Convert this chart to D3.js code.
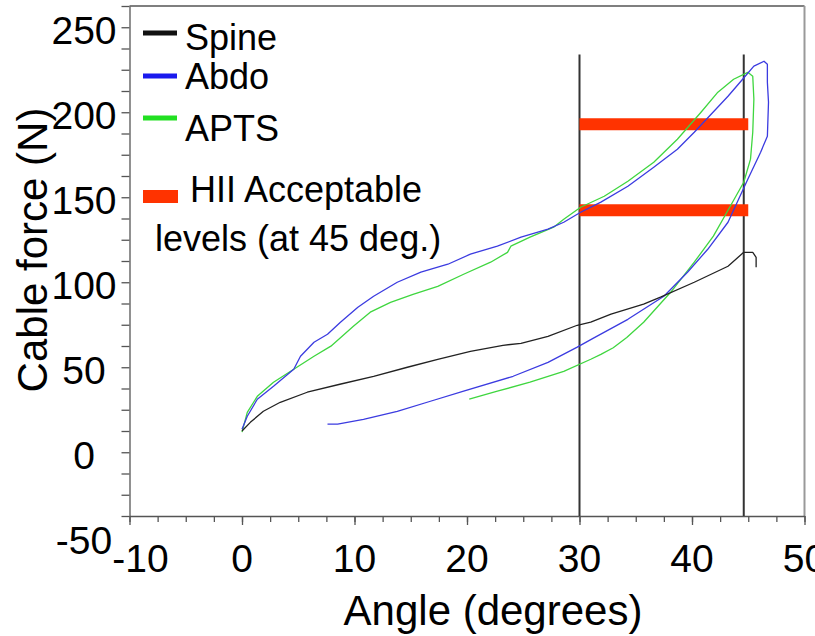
<!DOCTYPE html>
<html>
<head>
<meta charset="utf-8">
<script src="https://cdn.jsdelivr.net/npm/d3@7"></script>
<style>
  body { margin: 0; background: #fff; }
  text { font-family: Arial, "Liberation Sans", sans-serif; fill: #000; }
</style>
</head>
<body>
<div id="plot"></div>
<script>
// curves: [angle (deg), cable force (N)]
var spine = [[0, 12.5], [0.74, 17.6], [1.9, 24.1], [3.4, 29.4], [5.8, 35.3], [8.7, 40],
  [11.7, 44.7], [14.7, 50], [17.4, 54.7], [20.3, 59.4], [23.2, 62.9], [24.8, 64.1],
  [27.2, 68.2], [29.8, 74.7], [31.0, 76.5], [32.8, 81.2], [35.7, 87.1], [37.2, 91.2],
  [40.2, 100], [43.2, 109.4], [44.1, 114.7], [44.6, 117.6], [45.4, 117.6], [45.7, 114.7],
  [45.7, 108.8]];

var abdo = [[0, 13.5], [0.47, 21.2], [1.36, 31.2], [2.8, 38.8], [4.6, 48.8], [5.2, 56.5],
  [6.4, 64.7], [7.6, 69.4], [8.75, 76.5], [10.3, 85.3], [11.7, 91.8], [13.8, 100],
  [15.9, 105.9], [18.3, 110.6], [20.3, 116.5], [22.7, 121.2], [24.8, 126.5], [27.2, 131.2],
  [28.6, 135.3], [30.1, 141.2], [31.9, 147.1], [34.3, 156.5], [36.6, 167.6], [38.7, 178.2],
  [40.2, 188.2], [41.7, 198.8], [43.2, 209.4], [44.5, 219.4], [45.5, 227.1], [46.4, 230],
  [46.7, 228.2], [46.7, 217.6], [46.8, 205.9], [46.7, 185.9], [46.1, 176.5], [44.96, 160.6],
  [43.2, 135.3], [41.4, 119.4], [39.6, 105.9], [37.5, 91.8], [34.3, 78.2], [31.2, 67],
  [29.8, 61.8], [27.2, 52.9], [24.1, 44.7], [19.7, 35.9], [16.75, 30], [13.8, 24.1],
  [10.8, 19.4], [8.5, 16.5], [7.6, 16.5]];

var apts = [[0, 11.8], [0.47, 23.5], [1.36, 32.9], [2.8, 41.2], [4.6, 48.8], [6.4, 56.5],
  [7.9, 62.4], [9.9, 74.1], [11.4, 82.4], [13.2, 88.2], [15.2, 92.9], [17.4, 97.6],
  [19.7, 104.7], [22.1, 111.8], [23.6, 117.6], [23.9, 121.2], [25.6, 126.5], [27.7, 132.4],
  [28.6, 137.1], [30.1, 144.1], [32.2, 150.6], [34.3, 159.4], [36.6, 170.6], [38.7, 184.1],
  [40.8, 200], [42.3, 211.8], [43.7, 219.4], [44.96, 223.5], [45.4, 221.2], [45.5, 207.6],
  [45.4, 188.2], [45.2, 172.4], [44.6, 158.8], [43.4, 144.7], [41.9, 127.1], [40.2, 111.8],
  [38.1, 94.1], [35.7, 76.5], [34.2, 67.5], [33.0, 61.5], [31.9, 57.6], [31.0, 54.7],
  [28.6, 47.6], [25.6, 41.2], [22.7, 35.9], [20.2, 31.2]];

// reference lines and HII acceptable levels
var markerAngles = [30, 44.6];
var markerTop = 234;
var hiiLevels = [193, 142.4];
var hiiRange = [30, 45];

var xTickLabels = [-10, 0, 10, 20, 30, 40, 50];
var yTickLabels = [-50, 0, 50, 100, 150, 200, 250];

var legendNames = ["Spine", "Abdo", "APTS"];
var legendColors = ["#111111", "#1a1aee", "#22e022"];
var lineColors = ["#222222", "#3b3be0", "#3fd63f"];

var W = 815, H = 636;

var svg = d3.select("div#plot")
  .append("svg")
    .attr("width", W)
    .attr("height", H);

svg.append("rect").attr("width", W).attr("height", H).attr("fill", "#fff");

var x = d3.scaleLinear().domain([-10, 50]).range([129.5, 804.5]);
var y = d3.scaleLinear().domain([-37.5, 262.5]).range([516, 6]);

// frame (top and right)
svg.append("line")
  .attr("x1", x(-10)).attr("x2", x(50))
  .attr("y1", y(262.5)).attr("y2", y(262.5))
  .attr("stroke", "#555").attr("stroke-width", 1.3);
svg.append("line")
  .attr("x1", x(50)).attr("x2", x(50))
  .attr("y1", y(262.5)).attr("y2", y(-37.5))
  .attr("stroke", "#999").attr("stroke-width", 2);

// Y axis: ticks every 12.5 N
svg.append("g")
  .attr("transform", "translate(" + x(-10) + ",0)")
  .call(d3.axisLeft(y).tickValues(d3.range(-37.5, 262.6, 12.5)).tickFormat("").tickSize(8).tickSizeOuter(0))
  .call(function(g) {
    g.selectAll("path, line").attr("stroke", "#555").attr("stroke-width", 1.3);
  });

// X axis: minor and major ticks
svg.append("g")
  .attr("transform", "translate(0," + y(-37.5) + ")")
  .call(d3.axisBottom(x).tickValues(d3.range(-10, 50.1, 2.5)).tickFormat("").tickSize(6).tickSizeOuter(0))
  .call(function(g) {
    g.selectAll("path, line").attr("stroke", "#555").attr("stroke-width", 1.3);
  });
svg.append("g")
  .attr("transform", "translate(0," + y(-37.5) + ")")
  .call(d3.axisBottom(x).tickValues(xTickLabels).tickFormat("").tickSize(9).tickSizeOuter(0))
  .call(function(g) {
    g.select("path").remove();
    g.selectAll("line").attr("stroke", "#555").attr("stroke-width", 1.3);
  });

// tick labels
svg.selectAll(".ylab")
  .data(yTickLabels)
  .enter().append("text")
  .attr("class", "ylab")
  .attr("x", 84)
  .attr("y", function(d) { return y(d) + 17; })
  .attr("text-anchor", "middle")
  .style("font-size", "39px")
  .text(function(d) { return d; });

svg.selectAll(".xlab")
  .data(xTickLabels)
  .enter().append("text")
  .attr("class", "xlab")
  .attr("x", function(d) { return x(d); })
  .attr("dx", function(d) { return d < 0 ? 11 : 0; })
  .attr("y", 572)
  .attr("text-anchor", "middle")
  .style("font-size", "39px")
  .text(function(d) { return d; });

// axis titles
svg.append("text")
  .attr("x", 493).attr("y", 625)
  .attr("text-anchor", "middle")
  .style("font-size", "42px")
  .text("Angle (degrees)");

svg.append("text")
  .attr("transform", "translate(47,250) rotate(-90)")
  .attr("text-anchor", "middle")
  .style("font-size", "42px")
  .text("Cable force (N)");

// vertical reference lines
svg.selectAll(".marker")
  .data(markerAngles)
  .enter().append("line")
  .attr("class", "marker")
  .attr("x1", function(d) { return x(d); })
  .attr("x2", function(d) { return x(d); })
  .attr("y1", y(markerTop))
  .attr("y2", y(-37.5))
  .attr("stroke", "#333")
  .attr("stroke-width", 2);

// HII acceptable levels
svg.selectAll(".hii")
  .data(hiiLevels)
  .enter().append("line")
  .attr("class", "hii")
  .attr("x1", x(hiiRange[0]))
  .attr("x2", x(hiiRange[1]))
  .attr("y1", function(d) { return y(d); })
  .attr("y2", function(d) { return y(d); })
  .attr("stroke", "#ff3300")
  .attr("stroke-width", 12);

// curves
var line = d3.line()
  .x(function(d) { return x(d[0]); })
  .y(function(d) { return y(d[1]); });

[apts, abdo, spine].forEach(function(s) {
  var i = [spine, abdo, apts].indexOf(s);
  svg.append("path")
    .datum(s)
    .attr("d", line)
    .attr("fill", "none")
    .attr("stroke", lineColors[i])
    .attr("stroke-width", 1.3)
    .attr("stroke-linejoin", "round");
});

// legend
var legendLineY = [33, 76, 118];
var legendTextY = [50, 89, 141];
legendNames.forEach(function(name, i) {
  svg.append("line")
    .attr("x1", 143).attr("x2", 177)
    .attr("y1", legendLineY[i]).attr("y2", legendLineY[i])
    .attr("stroke", legendColors[i])
    .attr("stroke-width", 5);
  svg.append("text")
    .attr("x", 185).attr("y", legendTextY[i])
    .style("font-size", "36px")
    .text(name);
});

svg.append("rect")
  .attr("x", 143).attr("y", 190)
  .attr("width", 35).attr("height", 13)
  .attr("fill", "#ff3300");
svg.append("text")
  .attr("x", 190).attr("y", 202)
  .style("font-size", "36px")
  .text("HII Acceptable");
svg.append("text")
  .attr("x", 155).attr("y", 251)
  .style("font-size", "36px")
  .text("levels (at 45 deg.)");
</script>
</body>
</html>
